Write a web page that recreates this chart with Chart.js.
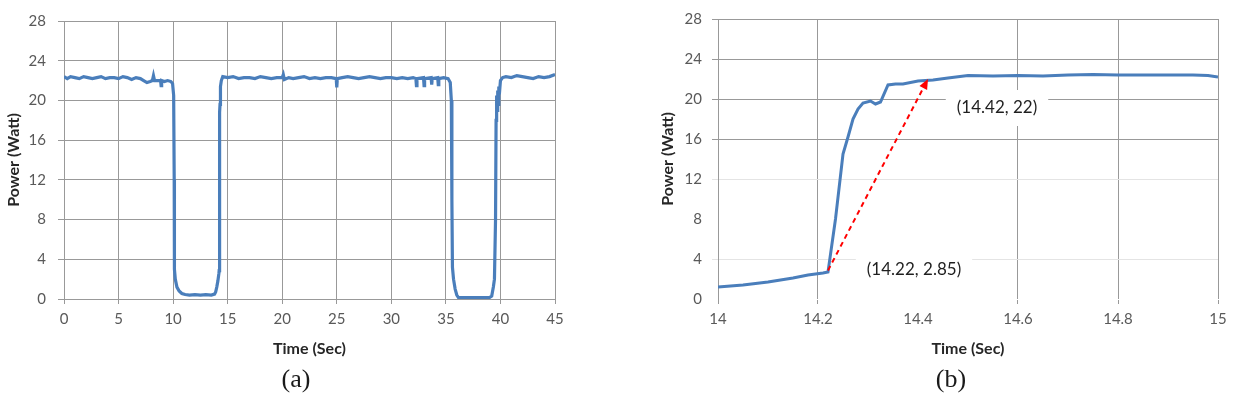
<!DOCTYPE html>
<html>
<head>
<meta charset="utf-8">
<script src="https://cdn.jsdelivr.net/npm/chart.js@4"></script>
<style>
  body { margin: 0; background: #fff; width: 1257px; height: 395px; position: relative; overflow: hidden; }
  canvas { position: absolute; top: 0; }
  #chartA { left: 0; }
  #chartB { left: 640px; }
  .caption { position: absolute; top: 364px; line-height: 30px; font-family: "Liberation Serif", serif; font-size: 26px; color: #1a1a1a; transform: translateX(-50%); }
</style>
</head>
<body>
<canvas id="chartA" width="590" height="365"></canvas>
<canvas id="chartB" width="610" height="365"></canvas>
<div class="caption" style="left:296px">(a)</div>
<div class="caption" style="left:951px">(b)</div>
<script>
// (a) full run, 0-45 s
const timeA = [
  0, 0.3, 0.6, 1.0, 1.4, 1.8, 2.2, 2.6, 3.0, 3.4, 3.8, 4.2, 4.6, 5.0, 5.4, 5.8, 6.2, 6.6, 7.0, 7.3,
  7.6, 7.9, 8.1, 8.2, 8.3, 8.6, 8.85, 8.9, 8.95, 9.2, 9.5, 9.8, 9.95, 10.05, 10.1, 10.12, 10.2, 10.35, 10.55, 10.8,
  11.1, 11.5, 12.0, 12.5, 13.0, 13.5, 13.8, 13.9, 14.0, 14.1, 14.2, 14.22, 14.25, 14.27, 14.3, 14.34, 14.42, 14.55,
  15.0, 15.5, 16.0, 16.5, 17.0, 17.5, 18.0, 18.5, 19.0, 19.5, 20.0, 20.1, 20.2, 20.6, 21.0, 21.5, 22.0, 22.5,
  23.0, 23.5, 24.0, 24.5, 24.95, 25.0, 25.05, 25.5, 26.0, 26.5, 27.0, 27.5, 28.0, 28.5, 29.0, 29.5, 30.0, 30.5,
  31.0, 31.5, 32.0, 32.25, 32.3, 32.35, 32.95, 33.0, 33.05, 33.65, 33.7, 33.75, 34.25, 34.3, 34.35, 34.8, 35.2,
  35.4, 35.5, 35.55, 35.6, 35.7, 35.85, 36.0, 36.15, 36.5, 37.0, 37.5, 38.0, 38.5, 39.0, 39.2, 39.35, 39.45,
  39.55, 39.6, 39.65, 39.7, 39.75, 39.8, 39.85, 39.9, 40.0, 40.2, 40.5, 41.0, 41.5, 42.0, 42.5, 43.0, 43.5,
  44.0, 44.5, 45.0
];
const powerA = [
  22.4, 22.2, 22.4, 22.3, 22.2, 22.4, 22.3, 22.2, 22.3, 22.4, 22.2, 22.3, 22.3, 22.2, 22.4, 22.3, 22.1, 22.3, 22.2, 22.0,
  21.8, 21.9, 22.0, 22.5, 22.0, 22.0, 22.0, 21.5, 22.0, 21.9, 22.0, 21.9, 21.7, 20.5, 12.0, 3.0, 2.0, 1.2, 0.8, 0.55,
  0.45, 0.4, 0.45, 0.4, 0.45, 0.4, 0.5, 0.7, 1.2, 1.8, 2.6, 2.85, 13.0, 18.8, 19.6, 21.4, 22.0, 22.4,
  22.3, 22.4, 22.2, 22.3, 22.3, 22.2, 22.4, 22.3, 22.2, 22.3, 22.3, 22.6, 22.1, 22.3, 22.2, 22.3, 22.4, 22.2,
  22.3, 22.2, 22.3, 22.3, 22.2, 21.3, 22.2, 22.3, 22.4, 22.3, 22.2, 22.3, 22.4, 22.3, 22.2, 22.3, 22.3, 22.2,
  22.3, 22.2, 22.3, 22.2, 21.5, 22.2, 22.3, 21.5, 22.2, 22.3, 21.6, 22.2, 22.3, 21.6, 22.2, 22.3, 22.2,
  21.8, 20.0, 10.0, 3.2, 2.0, 1.0, 0.4, 0.15, 0.15, 0.15, 0.15, 0.15, 0.15, 0.15, 0.3, 1.2, 2.0,
  8.0, 18.0, 20.5, 19.0, 21.0, 19.6, 21.4, 20.6, 22.0, 22.3, 22.4, 22.3, 22.5, 22.4, 22.3, 22.2, 22.4,
  22.3, 22.4, 22.6
];

// (b) zoom on the step, 14-15 s
const timeB = [
  14.0, 14.05, 14.1, 14.15, 14.18, 14.21, 14.22, 14.235, 14.25, 14.26, 14.27, 14.28, 14.29, 14.305, 14.315, 14.325,
  14.34, 14.355, 14.37, 14.4, 14.43, 14.46, 14.5, 14.55, 14.6, 14.65, 14.7, 14.75, 14.8, 14.85, 14.9, 14.95, 14.98, 15.0
];
const powerB = [
  1.2, 1.4, 1.7, 2.1, 2.4, 2.6, 2.7, 8.0, 14.5, 16.2, 18.0, 19.0, 19.6, 19.8, 19.5, 19.7,
  21.4, 21.5, 21.5, 21.8, 21.9, 22.1, 22.35, 22.3, 22.35, 22.3, 22.4, 22.45, 22.4, 22.4, 22.4, 22.4, 22.35, 22.2
];

const arrowFrom = [14.22, 2.85];
const arrowTo = [14.42, 22];
const calloutText = ["(14.42, 22)", "(14.22, 2.85)"];

const lineBlue = "#4a7ebb";
const gridGray = "#999999";
const tickFont = { family: "Lato", size: 15 };
const titleFont = { family: "Lato", size: 16, weight: "bold" };

function points(xs, ys) {
  return xs.map((x, i) => ({ x: x, y: ys[i] }));
}

function yAxis(width, pad, titlePad, gridColor) {
  return {
    type: "linear",
    min: 0,
    max: 28,
    afterFit: s => { s.width = width; },
    ticks: { stepSize: 4, color: "#595959", font: tickFont, padding: pad },
    grid: { color: gridColor, tickLength: 6 },
    border: { color: gridGray },
    title: { display: true, text: "Power (Watt)", color: "#262626", font: titleFont, padding: { top: titlePad, bottom: 0 } }
  };
}

function xAxis(min, max, step, gridColor, borderColor) {
  return {
    type: "linear",
    min: min,
    max: max,
    afterFit: s => { s.height = 66; },
    ticks: { stepSize: step, color: "#595959", font: tickFont, padding: 6, maxRotation: 0,
      callback: v => String(+v.toFixed(1)) },
    grid: { color: gridColor, tickLength: 5 },
    border: { color: borderColor },
    title: { display: true, text: "Time (Sec)", color: "#262626", font: titleFont, padding: { top: 0, bottom: 7 } }
  };
}

new Chart(document.getElementById("chartA"), {
  type: "line",
  data: {
    datasets: [{
      data: points(timeA, powerA),
      borderColor: lineBlue,
      borderWidth: 3.2,
      pointRadius: 0,
      tension: 0
    }]
  },
  options: {
    responsive: false,
    animation: false,
    layout: { padding: { top: 11, left: 0, right: 35, bottom: 0 } },
    plugins: { legend: { display: false }, tooltip: { enabled: false } },
    scales: {
      x: xAxis(0, 45, 5, gridGray, gridGray),
      y: yAxis(64, 12, 4, gridGray)
    }
  }
});

// the arrow and the two coordinate notes on (b)
const calloutPlugin = {
  id: "callout",
  beforeDatasetsDraw(chart) {
    const { ctx, scales: { x, y } } = chart;
    const spots = [[14.558, 19.1], [14.392, 2.9]];
    ctx.save();
    ctx.font = "17px Lato";
    ctx.textAlign = "center";
    ctx.textBaseline = "middle";
    calloutText.forEach((t, i) => {
      const px = x.getPixelForValue(spots[i][0]);
      const py = y.getPixelForValue(spots[i][1]);
      const w = ctx.measureText(t).width + 22;
      ctx.fillStyle = "#ffffff";
      ctx.fillRect(px - w / 2, py - 18, w, 36);
      ctx.fillStyle = "#1f1f1f";
      ctx.fillText(t, px, py);
    });
    ctx.restore();
  },
  afterDatasetsDraw(chart) {
    const { ctx, scales: { x, y } } = chart;
    const x0 = x.getPixelForValue(arrowFrom[0]), y0 = y.getPixelForValue(arrowFrom[1]);
    const x1 = x.getPixelForValue(arrowTo[0]), y1 = y.getPixelForValue(arrowTo[1]);
    const ang = Math.atan2(y1 - y0, x1 - x0);
    const head = 11;
    ctx.save();
    ctx.strokeStyle = "#ff0000";
    ctx.fillStyle = "#ff0000";
    ctx.lineWidth = 2;
    ctx.setLineDash([5, 4]);
    ctx.beginPath();
    ctx.moveTo(x0, y0);
    ctx.lineTo(x1 - head * 0.8 * Math.cos(ang), y1 - head * 0.8 * Math.sin(ang));
    ctx.stroke();
    ctx.setLineDash([]);
    ctx.beginPath();
    ctx.moveTo(x1, y1);
    ctx.lineTo(x1 - head * Math.cos(ang - 0.4), y1 - head * Math.sin(ang - 0.4));
    ctx.lineTo(x1 - head * Math.cos(ang + 0.4), y1 - head * Math.sin(ang + 0.4));
    ctx.closePath();
    ctx.fill();
    ctx.restore();
  }
};

new Chart(document.getElementById("chartB"), {
  type: "line",
  data: {
    datasets: [{
      data: points(timeB, powerB),
      borderColor: lineBlue,
      borderWidth: 3,
      pointRadius: 0,
      tension: 0
    }]
  },
  options: {
    responsive: false,
    animation: false,
    layout: { padding: { top: 12, left: 0, right: 32, bottom: 0 } },
    plugins: { legend: { display: false }, tooltip: { enabled: false } },
    scales: {
      x: xAxis(14, 15, 0.2, ctx => Math.abs(ctx.tick.value - 14.4) < 1e-6 ? "rgba(0,0,0,0)" : gridGray, "rgba(0,0,0,0)"),
      y: yAxis(78, 10, 18, ctx => {
        const v = ctx.tick.value;
        if (v >= 16) return gridGray;
        if (v === 12 || v === 4) return "#e4e4e4";
        return "rgba(0,0,0,0)";
      })
    }
  },
  plugins: [calloutPlugin]
});
</script>
</body>
</html>
